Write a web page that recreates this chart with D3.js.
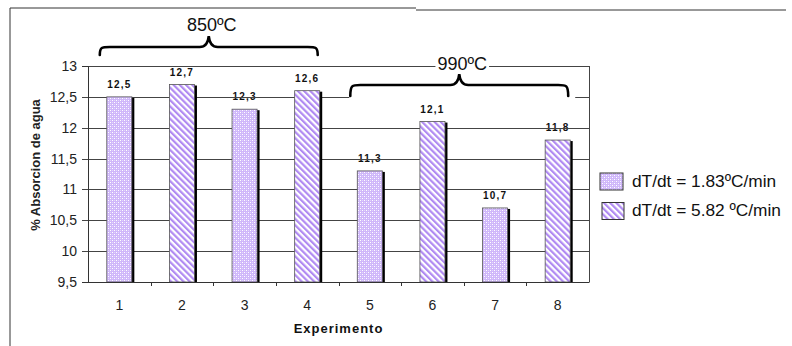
<!DOCTYPE html>
<html>
<head>
<meta charset="utf-8">
<script src="https://cdn.jsdelivr.net/npm/d3@7"></script>
<style>
  body { margin: 0; background: #fff; }
  svg { display: block; font-family: "Liberation Sans", Arial, sans-serif; }
</style>
</head>
<body>
<div id="chart"></div>
<script>
// data
const experiments = ["1", "2", "3", "4", "5", "6", "7", "8"];
const absorption = [12.5, 12.7, 12.3, 12.6, 11.3, 12.1, 10.7, 11.8];
const seriesIndex = [0, 1, 0, 1, 0, 1, 0, 1];
const seriesNames = ["dT/dt = 1.83ºC/min", "dT/dt = 5.82 ºC/min"];
const yTicks = [9.5, 10, 10.5, 11, 11.5, 12, 12.5, 13];
const groupLabels = ["850ºC", "990ºC"];
const groupFirst = ["1", "5"];
const groupLast = ["4", "8"];

const W = 792, H = 346;
const pad = { l: 88, r: 589, t: 66, b: 282 };

const svg = d3.select("#chart").append("svg").attr("width", W).attr("height", H);
const defs = svg.append("defs");

// dotted lavender fill
const dots = defs.append("pattern").attr("id", "dots")
  .attr("width", 4).attr("height", 4).attr("patternUnits", "userSpaceOnUse");
dots.append("rect").attr("width", 4).attr("height", 4).attr("fill", "#cfb7fa");
[[0, 0], [2, 2]].forEach(([x, y]) => dots.append("rect").attr("x", x).attr("y", y).attr("width", 1).attr("height", 1).attr("fill", "#fff"));
[[2, 0], [0, 2]].forEach(([x, y]) => dots.append("rect").attr("x", x).attr("y", y).attr("width", 1).attr("height", 1).attr("fill", "#e2d5fc"));

// diagonal purple stripes
const stripes = defs.append("pattern").attr("id", "stripes")
  .attr("width", 4.4).attr("height", 10).attr("patternUnits", "userSpaceOnUse")
  .attr("patternTransform", "rotate(-45)");
stripes.append("rect").attr("width", 4.4).attr("height", 10).attr("fill", "#fff");
stripes.append("rect").attr("width", 2.2).attr("height", 10).attr("fill", "#b08af2");

const fills = ["url(#dots)", "url(#stripes)"];

const x = d3.scaleBand().domain(experiments).range([pad.l, pad.r]).paddingInner(0.6).paddingOuter(0.3);
const xStep = d3.scaleBand().domain(experiments).range([pad.l, pad.r]);
const y = d3.scaleLinear().domain([9.5, 13]).range([pad.b, pad.t]);

const comma = d3.formatLocale({ decimal: ",", thousands: ".", grouping: [3], currency: ["", ""] }).format("~g");

// outer frame (partial, as in the picture)
svg.append("line").attr("x1", 10).attr("x2", 10).attr("y1", 8).attr("y2", H).attr("stroke", "#333");
svg.append("line").attr("x1", 10).attr("x2", 416).attr("y1", 8).attr("y2", 8).attr("stroke", "#333");
svg.append("line").attr("x1", 416).attr("x2", 786).attr("y1", 10).attr("y2", 10).attr("stroke", "#333");

// value labels (gridlines cross them in the original)
svg.append("g").selectAll("text").data(experiments).join("text")
  .attr("x", (d) => x(d) + x.bandwidth() / 2)
  .attr("y", (d, i) => y(absorption[i]) - 9)
  .attr("text-anchor", "middle")
  .attr("font-size", 10).attr("font-weight", "bold").attr("letter-spacing", 1.2)
  .attr("fill", "#111")
  .text((d, i) => comma(absorption[i]));

// gridlines
svg.append("g").selectAll("line").data(yTicks).join("line")
  .attr("x1", pad.l - 6).attr("x2", pad.r)
  .attr("y1", (d) => Math.round(y(d)) + 0.5).attr("y2", (d) => Math.round(y(d)) + 0.5)
  .attr("stroke", "#444");
svg.append("line").attr("x1", pad.r + 0.5).attr("x2", pad.r + 0.5).attr("y1", pad.t).attr("y2", pad.b).attr("stroke", "#444");

// white area behind the second brace
const b2x0 = x(groupFirst[1]) - 8, b2x1 = x(groupLast[1]) + x.bandwidth() + 5;
svg.append("rect").attr("x", b2x0).attr("y", 70).attr("width", b2x1 - b2x0).attr("height", 30).attr("fill", "#fff");

// bars with a dark shadow on the right
const bars = svg.append("g").selectAll("g").data(experiments).join("g");
bars.append("rect")
  .attr("x", (d) => x(d) + 2.5).attr("y", (d, i) => y(absorption[i]) + 1)
  .attr("width", x.bandwidth()).attr("height", (d, i) => pad.b - y(absorption[i]) - 1)
  .attr("fill", "#000");
bars.append("rect")
  .attr("x", (d) => x(d)).attr("y", (d, i) => y(absorption[i]))
  .attr("width", x.bandwidth()).attr("height", (d, i) => pad.b - y(absorption[i]))
  .attr("fill", (d, i) => fills[seriesIndex[i]])
  .attr("stroke", "#555").attr("stroke-width", 0.8);

// axes
const yAxis = svg.append("g").attr("transform", `translate(${pad.l},0)`)
  .call(d3.axisLeft(y).tickValues(yTicks).tickSize(6).tickPadding(5).tickFormat(comma));
yAxis.select(".domain").attr("stroke", "#333");
yAxis.selectAll(".tick line").remove();
yAxis.selectAll("text").attr("font-size", 14).attr("fill", "#222").attr("font-family", "Liberation Sans, Arial");

const xAxis = svg.append("g").attr("transform", `translate(0,${pad.b})`)
  .call(d3.axisBottom(xStep).tickSize(0).tickPadding(18));
xAxis.select(".domain").attr("stroke", "#333").attr("stroke-width", 1.2);
xAxis.selectAll("text").attr("font-size", 14).attr("fill", "#222").attr("font-family", "Liberation Sans, Arial");
svg.append("g").selectAll("line").data(experiments.slice(1)).join("line")
  .attr("x1", (d) => Math.round(xStep(d)) + 0.5).attr("x2", (d) => Math.round(xStep(d)) + 0.5)
  .attr("y1", pad.b).attr("y2", pad.b + 4).attr("stroke", "#333");

// axis titles
svg.append("text")
  .attr("transform", "translate(40,165) rotate(-90)")
  .attr("text-anchor", "middle").attr("font-size", 13).attr("font-weight", "bold").attr("fill", "#222")
  .text("% Absorcion de agua");
svg.append("text")
  .attr("x", (pad.l + pad.r) / 2).attr("y", 333)
  .attr("text-anchor", "middle").attr("font-size", 13).attr("font-weight", "bold").attr("letter-spacing", 1)
  .attr("fill", "#111")
  .text("Experimento");

// curly braces over the two groups
function bracePath(x0, x1, yEnd, yLine, yApex) {
  const xm = (x0 + x1) / 2;
  return `M${x0},${yEnd} C${x0},${yLine} ${x0 + 2},${yLine} ${x0 + 10},${yLine}` +
    ` L${xm - 9},${yLine} Q${xm - 1},${yLine} ${xm},${yApex}` +
    ` Q${xm + 1},${yLine} ${xm + 9},${yLine}` +
    ` L${x1 - 10},${yLine} C${x1 - 2},${yLine} ${x1},${yLine} ${x1},${yEnd}`;
}
const braceRows = [
  { yEnd: 55, yLine: 47, yApex: 36, yText: 31 },
  { yEnd: 96, yLine: 85, yApex: 74, yText: 70 },
];
groupLabels.forEach((label, k) => {
  const x0 = x(groupFirst[k]) - 7;
  const x1 = x(groupLast[k]) + x.bandwidth() - 2;
  const r = braceRows[k];
  svg.append("path").attr("d", bracePath(x0, x1, r.yEnd, r.yLine, r.yApex))
    .attr("fill", "none").attr("stroke", "#000").attr("stroke-width", 2.6).attr("stroke-linecap", "round");
  const t = svg.append("text").attr("x", (x0 + x1) / 2 + 3).attr("y", r.yText)
    .attr("text-anchor", "middle").attr("font-size", 18).attr("fill", "#111").text(label);
  if (k === 1) {
    const bb = t.node().getBBox();
    svg.insert("rect", () => t.node()).attr("x", bb.x - 2).attr("y", bb.y + 2).attr("width", bb.width + 4).attr("height", bb.height - 4).attr("fill", "#fff");
  }
});

// legend (kept just inside the right edge)
const legend = svg.append("g").selectAll("g").data(seriesNames).join("g")
  .attr("transform", (d, i) => `translate(${600 + i * 2},${173 + i * 29.5})`);
legend.append("rect").attr("width", (d, i) => 23 - i * 1).attr("height", 17)
  .attr("fill", (d, i) => fills[i]).attr("stroke", "#333");
legend.append("text").attr("x", (d, i) => 32 - i * 2).attr("y", 13.5)
  .attr("font-size", 17.3).attr("fill", "#111").text((d) => d);
</script>
</body>
</html>
